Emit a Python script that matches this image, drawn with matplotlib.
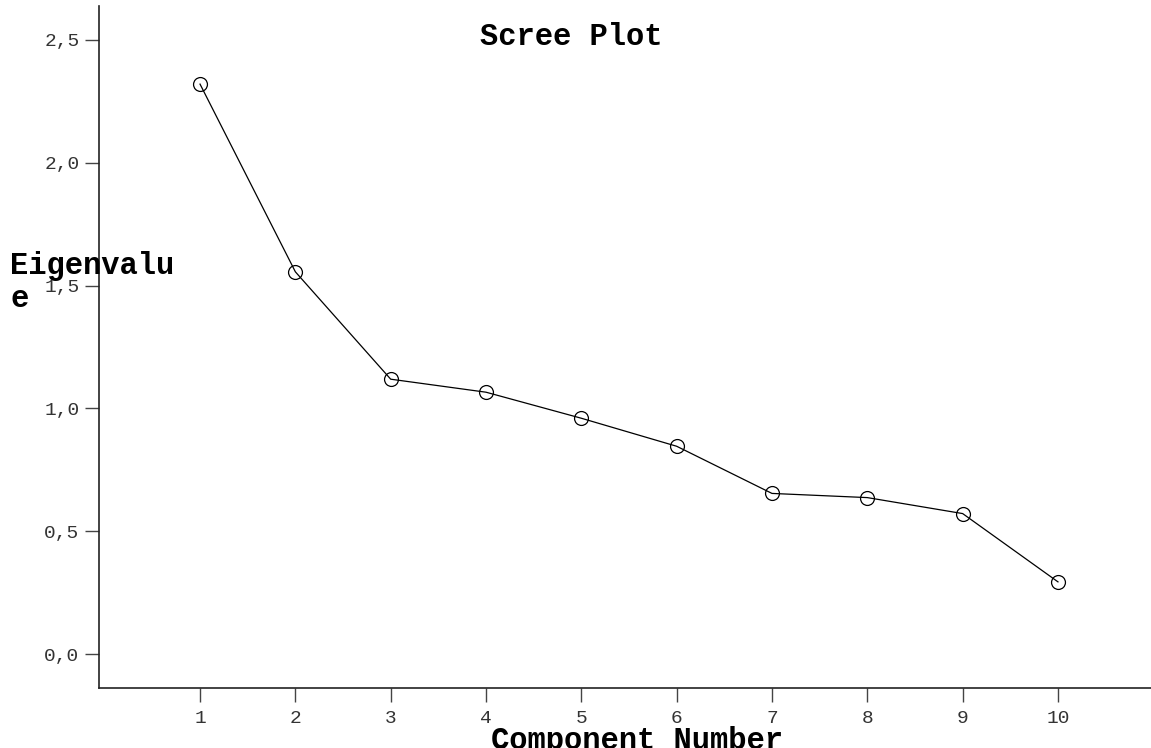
import numpy as np
import matplotlib
matplotlib.use("Agg")
import matplotlib.pyplot as plt
from matplotlib.ticker import FuncFormatter

# data
components = [1, 2, 3, 4, 5, 6, 7, 8, 9, 10]
eigenvalues = [2.320, 1.556, 1.119, 1.066, 0.960, 0.846, 0.654, 0.637, 0.572, 0.294]
y_ticks = [0.0, 0.5, 1.0, 1.5, 2.0, 2.5]

mono = "Liberation Mono"

fig = plt.figure(figsize=(11.51, 7.48), dpi=100)
ax = fig.add_axes([99/1151, 60/748, 1 - 99/1151, (688 - 6)/748])

ax.plot(components, eigenvalues, color="black", linewidth=0.9,
        marker="o", markersize=10, markerfacecolor="none",
        markeredgecolor="black", markeredgewidth=0.9)

ax.set_xlim(-0.06, 10.976)
ax.set_ylim(-0.138, 2.638)
ax.set_xticks(components)
ax.set_yticks(y_ticks)
ax.yaxis.set_major_formatter(FuncFormatter(lambda v, p: f"{v:.1f}".replace(".", ",")))

for s in ["top", "right"]:
    ax.spines[s].set_visible(False)
for s in ["left", "bottom"]:
    ax.spines[s].set_linewidth(1.2)
    ax.spines[s].set_color("#222222")

ax.tick_params(axis="both", direction="out", length=10, width=1.0, color="#444444",
               labelsize=14, labelcolor="#333333")
ax.tick_params(axis="y", pad=4)
ax.tick_params(axis="x", pad=6)
for lab in ax.get_xticklabels() + ax.get_yticklabels():
    lab.set_fontfamily(mono)

# titles placed like the SPSS output
fig.text(571/1151, 1 - 45/748, "Scree Plot", fontfamily=mono, fontweight="bold",
         fontsize=22, ha="center", va="baseline")
fig.text(10/1151, 1 - 307/748, "Eigenvalu\ne", fontfamily=mono, fontweight="bold",
         fontsize=22, ha="left", va="baseline", linespacing=1.15,
         multialignment="left")
fig.text(637/1151, 1 - 749/748, "Component Number", fontfamily=mono, fontweight="bold",
         fontsize=22, ha="center", va="baseline")

fig.savefig("out.png", dpi=100)
